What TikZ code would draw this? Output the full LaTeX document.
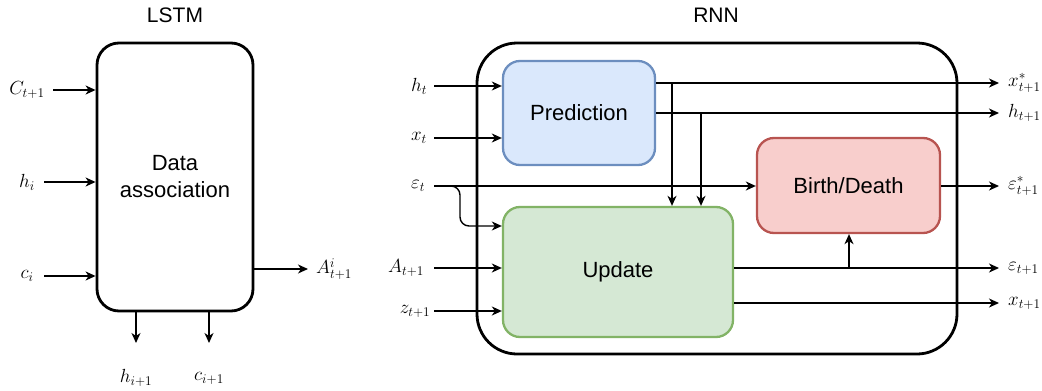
\documentclass[tikz,border=0pt]{standalone}
\usepackage{fix-cm}
\usepackage{fontspec}
\setmainfont{Liberation Sans}
\usetikzlibrary{arrows.meta}
\definecolor{bluefill}{HTML}{DAE8FC}
\definecolor{bluedraw}{HTML}{6C8EBF}
\definecolor{greenfill}{HTML}{D5E8D4}
\definecolor{greendraw}{HTML}{82B366}
\definecolor{redfill}{HTML}{F8CECC}
\definecolor{reddraw}{HTML}{B85450}
\begin{document}
\begin{tikzpicture}[x=1pt,y=-1pt,
  arr/.style={line width=1.4pt,-{Stealth[length=10pt,width=9pt,inset=3pt]}},
  bigbox/.style={draw,line width=2.8pt,inner sep=0pt,align=center,font=\fontsize{22}{27}\selectfont},
  smallbox/.style={draw,line width=2.3pt,inner sep=0pt,rounded corners=17pt,align=center,font=\fontsize{22}{27}\selectfont},
  title/.style={font=\fontsize{21}{25}\selectfont,inner sep=0pt},
  lab/.style={font=\fontsize{19}{22}\selectfont,inner sep=0pt}
]
\useasboundingbox (0,0) rectangle (1042,391);

% ---------------- LSTM ----------------
\node[title] (tl) at (175,15) {LSTM};
\node[bigbox,rounded corners=22pt,minimum width=156pt,minimum height=268pt] (lstm) at (175,177) {Data\\association};

\node[lab] (Ct) at (27,90) {$C_{t+1}$};
\node[lab] (hi) at (27,182) {$h_i$};
\node[lab] (ci) at (27,276) {$c_i$};
\coordinate (Ct0) at (53,90);
\coordinate (hi0) at (44,182);
\coordinate (ci0) at (44,276);
\draw[arr] (Ct0) -- (Ct0 -| lstm.west);
\draw[arr] (hi0) -- (hi0 -| lstm.west);
\draw[arr] (ci0) -- (ci0 -| lstm.west);

\coordinate (A0) at (308,269);
\node[lab,anchor=west] (Ai) at (316,269) {$A^{i}_{t+1}$};
\draw[arr] (A0 -| lstm.east) -- (A0);

\coordinate (hb) at (136,343);
\coordinate (cb) at (209,343);
\draw[arr] (hb |- lstm.south) -- (hb);
\draw[arr] (cb |- lstm.south) -- (cb);
\node[lab] (hi1) at (136,378) {$h_{i+1}$};
\node[lab] (ci1) at (209,378) {$c_{i+1}$};

% ---------------- RNN ----------------
\node[title] (tr) at (716,15) {RNN};
\node[bigbox,rounded corners=40pt,minimum width=480pt,minimum height=311pt] (rnn) at (717,198.5) {};

\node[smallbox,fill=bluefill,draw=bluedraw,minimum width=152pt,minimum height=104pt] (pred) at (579,113) {Prediction};
\node[smallbox,fill=greenfill,draw=greendraw,minimum width=230pt,minimum height=130pt] (upd) at (618,272) {Update};
\node[smallbox,fill=redfill,draw=reddraw,minimum width=183pt,minimum height=95pt] (bd) at (848.5,185.5) {Birth/Death};

% left inputs
\node[lab] (ht) at (419,86) {$h_t$};
\node[lab] (xt) at (419,138) {$x_t$};
\node[lab] (et) at (418,186) {$\varepsilon_t$};
\node[lab] (At) at (406,268) {$A_{t+1}$};
\node[lab] (zt) at (415,311) {$z_{t+1}$};
\coordinate (ht0) at (434,86);
\coordinate (xt0) at (434,138);
\coordinate (et0) at (434,186);
\coordinate (At0) at (434,268);
\coordinate (zt0) at (434,311);
\coordinate (eb) at (460,226);
\draw[arr] (ht0) -- (ht0 -| pred.west);
\draw[arr] (xt0) -- (xt0 -| pred.west);
\draw[arr] (et0) -- (et0 -| bd.west);
\draw[arr,rounded corners=9pt] (et0) -| (eb) -- (eb -| upd.west);
\draw[arr] (At0) -- (At0 -| upd.west);
\draw[arr] (zt0) -- (zt0 -| upd.west);

% right outputs
\coordinate (xs0) at (999,83);
\coordinate (hs0) at (999,113);
\coordinate (es0) at (999,186);
\coordinate (e10) at (999,268);
\coordinate (x10) at (999,303);
\node[lab,anchor=west] (xs) at (1008,83) {$x^{*}_{t+1}$};
\node[lab,anchor=west] (hs) at (1008,113) {$h_{t+1}$};
\node[lab,anchor=west] (es) at (1008,186) {$\varepsilon^{*}_{t+1}$};
\node[lab,anchor=west] (e1) at (1008,268) {$\varepsilon_{t+1}$};
\node[lab,anchor=west] (x1) at (1008,303) {$x_{t+1}$};
\draw[arr] (xs0 -| pred.east) -- (xs0);
\draw[arr] (hs0 -| pred.east) -- (hs0);
\draw[arr] (es0 -| bd.east) -- (es0);
\draw[arr] (e10 -| upd.east) -- (e10);
\draw[arr] (x10 -| upd.east) -- (x10);

% internal drops
\coordinate (v1) at (672,83);
\coordinate (v2) at (701,113);
\coordinate (v3) at (849,268);
\draw[arr] (v1) -- (v1 |- upd.north);
\draw[arr] (v2) -- (v2 |- upd.north);
\draw[arr] (v3) -- (v3 |- bd.south);
\end{tikzpicture}
\end{document}
